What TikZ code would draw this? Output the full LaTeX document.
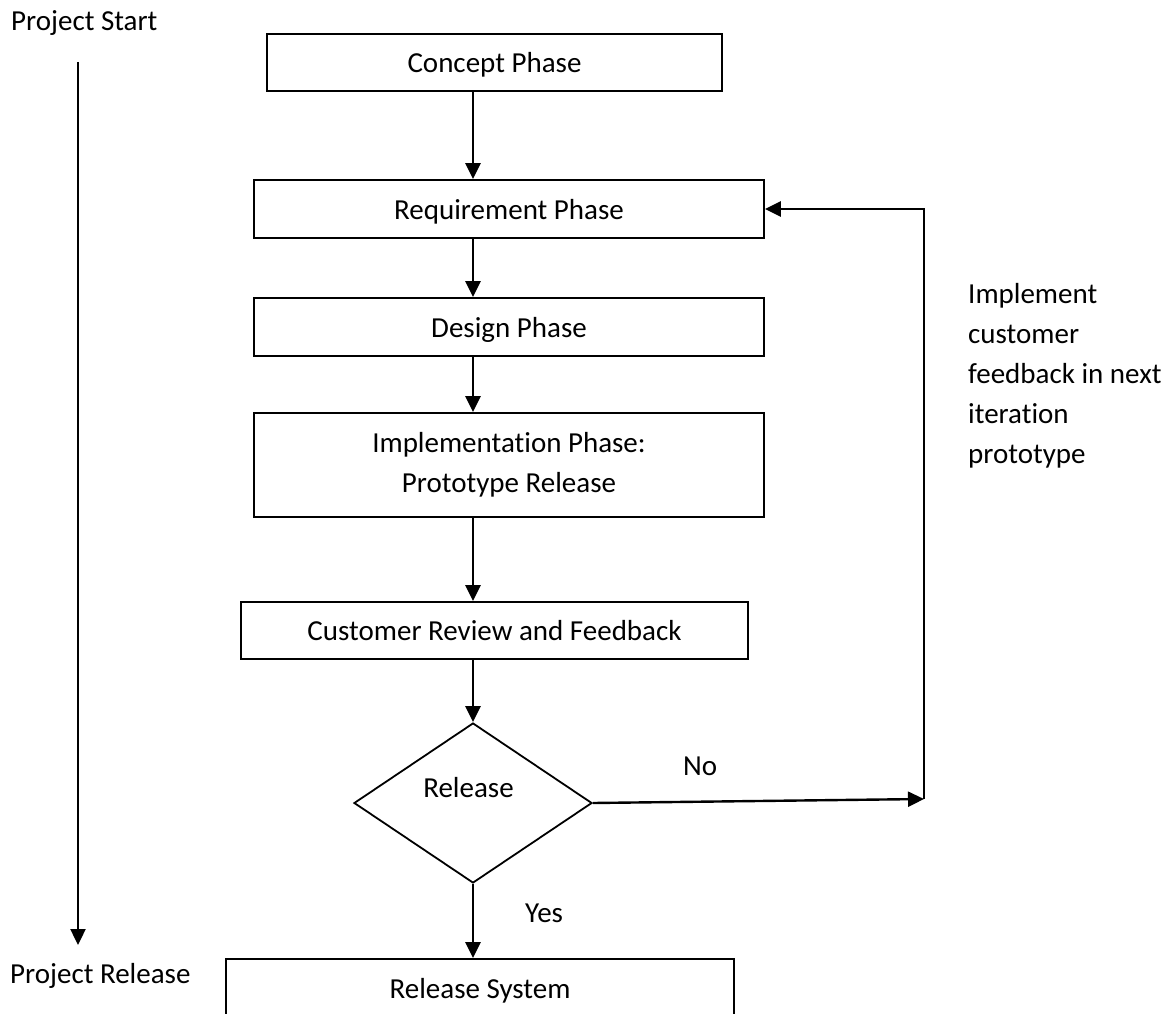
\documentclass[tikz,border=0pt]{standalone}
\usepackage{fontspec}
\setmainfont{Carlito}[Ligatures=NoCommon]
\usetikzlibrary{arrows.meta,shapes.geometric}
\begin{document}
\begin{tikzpicture}[x=1pt,y=-1pt,
  every node/.style={font=\fontsize{29}{40}\selectfont, inner sep=0pt},
  boxbase/.style={draw, rectangle, line width=1.8pt},
  phase/.style={boxbase, text height=27pt, text depth=7pt},
  decision/.style={draw, diamond, line width=1.8pt},
  flow/.style={line width=2.4pt},
  arr/.style={flow, -{Triangle[length=16pt,width=15pt]}}
]
% page frame
\path[use as bounding box, clip] (0,0) rectangle (1173,1014);

% process boxes
\node[phase, minimum width=455pt, minimum height=57pt] (concept) at (494.5,62.5) {Concept Phase};
\node[phase, minimum width=510pt, minimum height=58pt] (req) at (509,209) {Requirement Phase};
\node[phase, minimum width=510pt, minimum height=58pt] (design) at (509,327) {Design Phase};
\node[boxbase, align=center, minimum width=510pt, minimum height=104pt] (impl) at (509,465) {Implementation Phase:\\Prototype Release};
\node[phase, minimum width=507pt, minimum height=57pt] (cust) at (494.5,630.5) {Customer Review and Feedback};
\node[decision, minimum width=238pt, minimum height=160pt] (dec) at (473,803) {};
\node[anchor=base] (declabel) at (468.5,797) {Release};
\node[phase, minimum width=508pt, minimum height=58pt] (rel) at (480,988) {Release System};

% main flow
\draw[arr] (concept.south -| dec.north) -- (req.north -| dec.north);
\draw[arr] (req.south -| dec.north) -- (design.north -| dec.north);
\draw[arr] (design.south -| dec.north) -- (impl.north -| dec.north);
\draw[arr] (impl.south -| dec.north) -- (cust.north -| dec.north);
\draw[arr] (cust.south -| dec.north) -- (dec.north);
\draw[arr] (dec.south) -- (rel.north -| dec.south);

% feedback loop
\coordinate (loop) at (924,799);
\draw[arr] (dec.east) -- (loop);
\draw[arr] (loop) -- (loop |- req.east) -- (req.east);

% branch labels
\node[anchor=base west] (nolabel) at (683,775) {No};
\node[anchor=base west] (yeslabel) at (525,922) {Yes};

% loop note (base anchor sits on the last line)
\begin{scope}
  \clip (940,260) rectangle (1173,467);
  \node[anchor=base west, align=left] (note) at (968,463) {Implement\\customer\\feedback in next\\iteration\\prototype};
\end{scope}

% project timeline
\node[anchor=base west] (pstart) at (11,31) {Project Start};
\node[anchor=base west] (prel) at (10,983) {Project Release};
\coordinate (tlstart) at (78,62);
\coordinate (tlend) at (78,945);
\draw[arr] (tlstart) -- (tlend);
\end{tikzpicture}
\end{document}
